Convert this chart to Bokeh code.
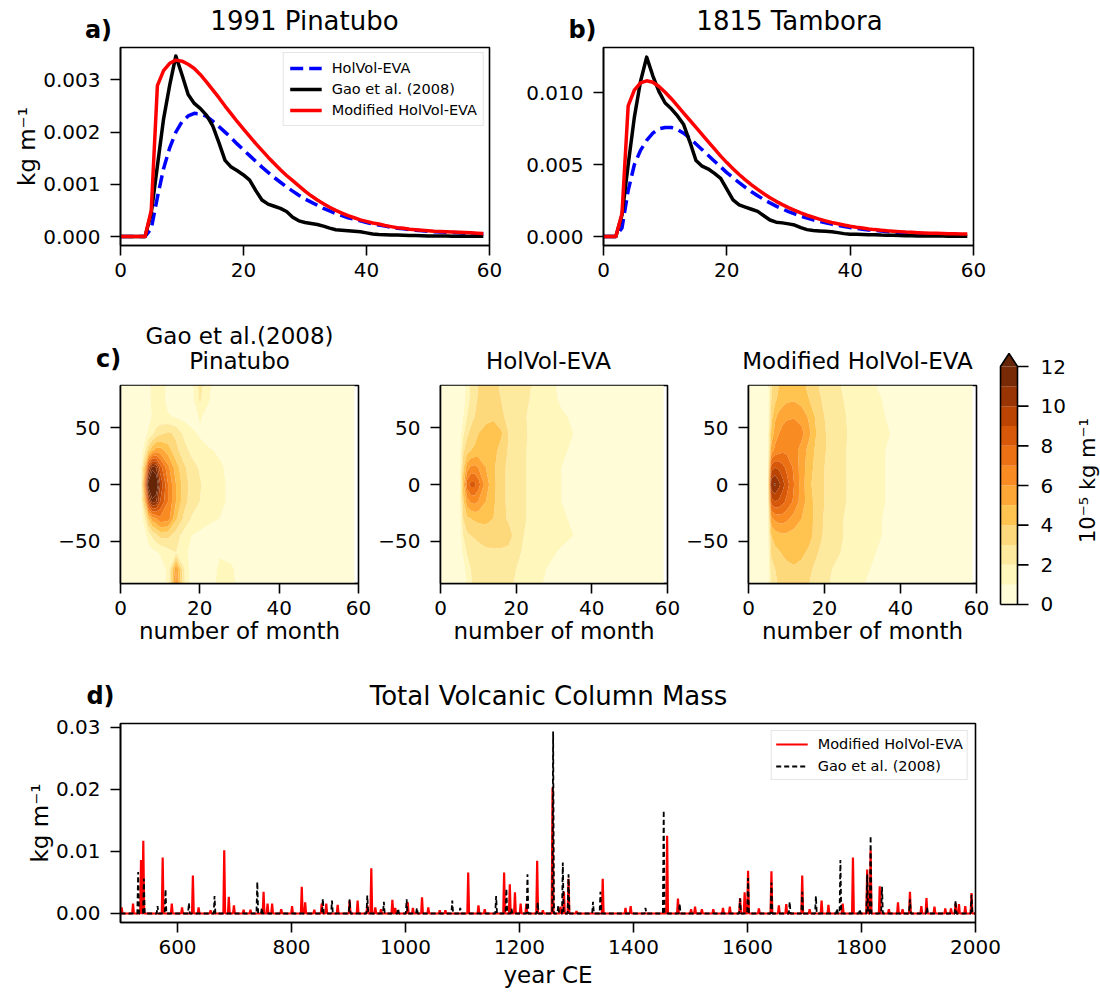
import numpy as np
from bokeh.plotting import figure
from bokeh.layouts import column, row
from bokeh.models import (FixedTicker, PrintfTickFormatter, Legend, LegendItem, Range1d)
from bokeh.core.properties import value
from bokeh.embed import file_html
from bokeh.resources import INLINE

FONT = "DejaVu Sans"

# ---------------- data: panels a, b (units 1e-3 kg m^-1) ----------------
UNIT_AB = 1e-3
months = list(range(60))
pin_holvol = [0, 0, 0, 0, 0, 0.15, 0.75, 1.30, 1.70, 2.00,
              2.20, 2.31, 2.36, 2.35, 2.30, 2.21, 2.11, 2.00, 1.89, 1.77,
              1.66, 1.55, 1.44, 1.33, 1.23, 1.13, 1.04, 0.95, 0.87, 0.79,
              0.72, 0.66, 0.60, 0.54, 0.49, 0.44, 0.40, 0.36, 0.33, 0.30,
              0.27, 0.24, 0.22, 0.20, 0.18, 0.16, 0.15, 0.13, 0.12, 0.11,
              0.10, 0.09, 0.085, 0.08, 0.075, 0.07, 0.065, 0.06, 0.055, 0.05]
pin_gao = [0, 0, 0, 0, 0, 0.45, 1.35, 2.25, 2.90, 3.46,
           3.10, 2.72, 2.55, 2.45, 2.32, 2.12, 1.80, 1.46, 1.33, 1.26,
           1.18, 1.08, 0.88, 0.70, 0.62, 0.58, 0.54, 0.48, 0.37, 0.30,
           0.27, 0.25, 0.23, 0.20, 0.16, 0.13, 0.12, 0.11, 0.10, 0.09,
           0.07, 0.05, 0.04, 0.035, 0.03, 0.03, 0.025, 0.02, 0.02, 0.015,
           0.01, 0.01, 0.01, 0.01, 0.005, 0.005, 0.005, 0.005, 0.005, 0.005]
pin_mod = [0, 0, 0, 0, 0, 0.50, 2.89, 3.18, 3.32, 3.38,
           3.36, 3.30, 3.22, 3.10, 2.96, 2.81, 2.66, 2.50, 2.35, 2.20,
           2.06, 1.92, 1.78, 1.65, 1.52, 1.40, 1.28, 1.17, 1.07, 0.97,
           0.87, 0.78, 0.70, 0.63, 0.56, 0.50, 0.45, 0.40, 0.36, 0.32,
           0.29, 0.26, 0.24, 0.21, 0.19, 0.17, 0.16, 0.14, 0.13, 0.12,
           0.11, 0.10, 0.095, 0.09, 0.085, 0.08, 0.075, 0.07, 0.065, 0.06]
tam_holvol = [0, 0, 0, 0.6, 3.2, 5.0, 6.0, 6.7, 7.2, 7.5,
              7.6, 7.6, 7.45, 7.2, 6.85, 6.45, 6.05, 5.65, 5.25, 4.85,
              4.45, 4.1, 3.75, 3.42, 3.12, 2.84, 2.58, 2.34, 2.12, 1.92,
              1.74, 1.57, 1.42, 1.28, 1.16, 1.05, 0.95, 0.86, 0.77, 0.70,
              0.63, 0.57, 0.51, 0.46, 0.42, 0.38, 0.34, 0.31, 0.28, 0.25,
              0.23, 0.21, 0.19, 0.17, 0.16, 0.15, 0.14, 0.13, 0.12, 0.11]
tam_gao = [0, 0, 0, 1.5, 5.0, 8.3, 10.8, 12.5, 11.2, 10.1,
           9.3, 8.9, 8.4, 7.8, 6.6, 5.3, 4.9, 4.7, 4.4, 4.05,
           3.3, 2.55, 2.2, 2.05, 1.9, 1.75, 1.45, 1.15, 1.0, 0.95,
           0.88, 0.8, 0.62, 0.48, 0.42, 0.39, 0.36, 0.33, 0.27, 0.2,
           0.16, 0.15, 0.14, 0.13, 0.12, 0.10, 0.09, 0.08, 0.07, 0.06,
           0.05, 0.04, 0.04, 0.03, 0.03, 0.03, 0.02, 0.02, 0.02, 0.02]
tam_mod = [0, 0, 0, 1.6, 9.1, 10.2, 10.7, 10.85, 10.75, 10.45,
           10.05, 9.6, 9.1, 8.6, 8.1, 7.6, 7.1, 6.6, 6.1, 5.6,
           5.15, 4.72, 4.32, 3.95, 3.6, 3.28, 2.98, 2.7, 2.45, 2.22,
           2.01, 1.82, 1.64, 1.48, 1.34, 1.21, 1.09, 0.98, 0.89, 0.80,
           0.72, 0.65, 0.59, 0.53, 0.48, 0.44, 0.40, 0.37, 0.34, 0.31,
           0.29, 0.27, 0.25, 0.23, 0.22, 0.21, 0.20, 0.19, 0.18, 0.17]

# ---------------- data: panel c (units 1e-5 kg m^-1) ----------------
c_months = [0, 4, 5, 6, 7, 8, 9, 10, 12, 14, 16, 18, 20, 22, 25, 28, 32, 40, 59]
c_lats = [-87.5, -75, -60, -45, -30, -15, 0, 15, 30, 45, 60, 75, 87.5]
c_levels = [0, 1, 2, 3, 4, 5, 6, 7, 8, 9, 10, 11, 12, 100]
c_palette = ["#fffcd7", "#fff7bc", "#feea9f", "#fed97b", "#fec44f", "#fea736",
             "#f88b22", "#ec7014", "#d75808", "#bb4403", "#993404", "#772a05", "#662506"]
cbar_ticks = [0, 2, 4, 6, 8, 10, 12]
cbar_label = "10\u207b\u2075 kg m\u207b\u00b9"

gao_pinatubo_field = [
    [.3, .3, .3, .3, .3, .3, .4, .5, 1.2, 6.5, 2.2, .5, .4, .4, 1.3, 1.2, .4, .3, .2],
    [.3, .3, .3, .3, .3, .4, .5, .6, 1.2, 6.0, 2.1, .5, .4, .4, 1.2, 1.1, .4, .3, .2],
    [.3, .3, .3, .4, .5, .7, .9, 1.1, 1.6, 2.0, 1.4, .6, .5, .5, .9, .8, .4, .3, .2],
    [.3, .3, .3, .6, 1.5, 2.2, 2.8, 3.3, 3.3, 2.5, 1.6, 1.0, .8, .7, .6, .5, .4, .3, .2],
    [.3, .3, .4, 1.5, 4.0, 5.5, 6.0, 6.8, 6.5, 4.2, 2.8, 1.9, 1.5, 1.2, 1.0, .7, .5, .3, .2],
    [.3, .3, .5, 4.0, 9.0, 11.5, 11.0, 9.0, 7.0, 5.0, 3.4, 2.5, 2.0, 1.6, 1.2, .8, .6, .4, .2],
    [.3, .3, .6, 6.0, 12.5, 15.0, 13.5, 10.0, 7.0, 5.0, 3.5, 2.6, 2.1, 1.6, 1.2, .8, .6, .4, .2],
    [.3, .3, .5, 4.0, 9.0, 11.5, 11.0, 8.5, 6.3, 4.5, 3.2, 2.4, 1.9, 1.5, 1.1, .8, .6, .4, .2],
    [.3, .3, .4, 1.5, 3.5, 4.8, 5.5, 5.5, 4.5, 3.3, 2.4, 1.7, 1.3, 1.1, .9, .6, .5, .3, .2],
    [.3, .3, .3, .5, 1.2, 1.8, 2.4, 2.8, 3.2, 2.8, 1.8, 1.2, .9, .7, .6, .5, .4, .3, .2],
    [.3, .3, .3, .4, .6, 1.1, 1.3, 1.3, 1.1, .9, .7, .6, 1.1, .8, .5, .4, .3, .3, .2],
    [.3, .3, .3, .4, .6, 1.3, 1.5, 1.5, .7, .5, .5, .7, 2.2, 1.1, .5, .4, .3, .3, .2],
    [.3, .3, .3, .4, .6, 1.3, 1.5, 1.5, .7, .5, .5, .7, 2.4, 1.2, .5, .4, .3, .3, .2],
]
holvol_field = [
    [.3, .3, .3, .5, 1.2, 1.9, 2.2, 2.4, 2.5, 2.5, 2.4, 2.2, 1.9, 1.6, 1.2, .9, .7, .4, .3],
    [.3, .3, .3, .6, 1.4, 2.0, 2.3, 2.5, 2.6, 2.6, 2.5, 2.3, 2.0, 1.7, 1.3, 1.0, .8, .5, .3],
    [.3, .3, .3, 1.2, 2.1, 2.5, 2.6, 2.7, 2.8, 2.9, 2.8, 2.6, 2.2, 1.9, 1.5, 1.2, .9, .5, .3],
    [.3, .3, .4, 2.0, 2.8, 3.0, 3.1, 3.2, 3.5, 3.3, 3.6, 3.6, 2.4, 2.0, 1.7, 1.4, 1.2, .7, .3],
    [.3, .3, .4, 3.0, 3.8, 4.0, 4.2, 4.3, 4.3, 4.0, 3.5, 2.8, 2.4, 2.1, 1.7, 1.4, 1.1, .6, .3],
    [.3, .3, .5, 3.8, 5.5, 6.2, 6.3, 6.0, 5.0, 4.2, 3.3, 2.8, 2.4, 2.1, 1.7, 1.4, 1.0, .6, .3],
    [.3, .3, .5, 4.5, 7.5, 8.3, 8.3, 7.5, 5.5, 4.3, 3.3, 2.8, 2.4, 2.1, 1.7, 1.4, 1.0, .6, .3],
    [.3, .3, .5, 3.8, 5.5, 6.2, 6.3, 6.0, 5.0, 4.2, 3.3, 2.8, 2.4, 2.1, 1.7, 1.4, 1.0, .6, .3],
    [.3, .3, .4, 2.8, 3.6, 4.0, 4.2, 4.4, 4.6, 4.4, 3.6, 2.9, 2.5, 2.1, 1.7, 1.4, 1.1, .6, .3],
    [.3, .3, .4, 1.8, 2.8, 3.3, 3.6, 4.0, 4.5, 4.6, 4.2, 3.0, 2.5, 2.1, 1.8, 1.5, 1.2, .7, .3],
    [.3, .3, .3, 1.0, 2.0, 2.6, 3.0, 3.3, 3.6, 3.8, 3.3, 2.6, 2.3, 2.1, 1.7, 1.4, 1.1, .6, .3],
    [.3, .3, .3, .6, 1.5, 2.3, 2.8, 3.1, 3.3, 3.3, 3.0, 2.6, 2.4, 2.2, 1.8, 1.3, .9, .5, .3],
    [.3, .3, .3, .5, 1.3, 2.2, 2.7, 3.0, 3.2, 3.2, 2.9, 2.5, 2.3, 2.2, 1.9, 1.3, .8, .5, .3],
]
mod_holvol_field = [
    [.3, .3, .4, 2.3, 2.8, 3.1, 3.4, 3.6, 3.7, 3.5, 3.0, 2.5, 2.2, 1.9, 1.5, 1.2, .9, .5, .3],
    [.3, .3, .4, 2.6, 3.0, 3.3, 3.6, 3.8, 3.9, 3.7, 3.2, 2.7, 2.3, 2.0, 1.6, 1.3, 1.0, .6, .3],
    [.3, .3, .4, 3.2, 3.7, 3.9, 4.1, 4.2, 4.3, 4.2, 3.8, 3.1, 2.6, 2.3, 1.9, 1.5, 1.1, .6, .3],
    [.3, .3, .4, 4.0, 4.5, 4.7, 4.8, 4.8, 4.6, 4.5, 4.3, 3.6, 2.8, 2.4, 2.0, 1.6, 1.2, .7, .3],
    [.3, .3, .5, 5.8, 6.3, 6.5, 6.5, 6.3, 5.6, 5.0, 4.5, 3.5, 2.9, 2.5, 2.0, 1.6, 1.2, .7, .3],
    [.3, .3, .5, 8.5, 9.0, 8.8, 8.3, 7.8, 6.8, 5.5, 4.4, 3.6, 3.0, 2.6, 2.1, 1.7, 1.3, .7, .3],
    [.3, .3, .5, 10.8, 11.2, 10.3, 9.4, 8.5, 7.0, 5.5, 4.2, 3.5, 3.0, 2.6, 2.1, 1.7, 1.3, .7, .3],
    [.3, .3, .5, 8.5, 9.0, 8.8, 8.3, 7.8, 6.8, 5.5, 4.4, 3.6, 3.0, 2.6, 2.1, 1.7, 1.3, .7, .3],
    [.3, .3, .5, 5.5, 6.3, 6.6, 6.8, 6.8, 6.4, 5.6, 4.6, 3.7, 3.1, 2.6, 2.1, 1.7, 1.3, .7, .3],
    [.3, .3, .4, 4.3, 5.5, 6.0, 6.4, 6.7, 6.8, 6.3, 5.2, 3.9, 3.1, 2.6, 2.1, 1.8, 1.4, .8, .3],
    [.3, .3, .4, 3.6, 4.8, 5.3, 5.6, 5.8, 5.9, 5.6, 4.8, 3.7, 3.0, 2.6, 2.1, 1.7, 1.3, .7, .3],
    [.3, .3, .4, 3.0, 3.8, 4.3, 4.6, 4.8, 4.9, 4.6, 4.0, 3.3, 2.8, 2.4, 2.0, 1.6, 1.2, .7, .3],
    [.3, .3, .4, 2.8, 3.5, 4.0, 4.3, 4.5, 4.5, 4.3, 3.7, 3.1, 2.6, 2.3, 1.9, 1.5, 1.1, .6, .3],
]

# ---------------- data: panel d (kg m^-1) ----------------
d_year_start, d_year_end = 500, 2000
mod_years = [502, 522, 536, 540, 574, 590, 608, 627, 637, 658, 682, 690, 699, 716, 728,
             751, 758, 766, 782, 801, 818, 824, 840, 853, 861, 881, 902, 916, 933, 940,
             947, 957, 977, 982, 1004, 1013, 1029, 1040, 1060, 1070, 1110, 1128, 1139,
             1173, 1183, 1192, 1202, 1212, 1231, 1241, 1258, 1272, 1278, 1286, 1300, 1346,
             1386, 1395, 1459, 1478, 1501, 1508, 1520, 1540, 1557, 1569, 1587, 1595, 1601,
             1620, 1642, 1655, 1668, 1696, 1709, 1730, 1742, 1767, 1785, 1810, 1816, 1832,
             1848, 1864, 1872, 1885, 1905, 1914, 1928, 1947, 1957, 1965, 1971, 1982, 1993]
mod_peaks = [0.0010, 0.0016, 0.0086, 0.0117, 0.0090, 0.0016, 0.0010, 0.0061, 0.0010, 0.0005,
             0.0102, 0.0027, 0.0013, 0.0006, 0.0006, 0.0035, 0.0016, 0.0016, 0.0007, 0.0012,
             0.0043, 0.0018, 0.0006, 0.0016, 0.0016, 0.0014, 0.0021, 0.0021, 0.0013, 0.0073,
             0.0010, 0.0007, 0.0022, 0.0009, 0.0018, 0.0009, 0.0026, 0.0010, 0.0005, 0.0005,
             0.0066, 0.0013, 0.0007, 0.0066, 0.0047, 0.0034, 0.0016, 0.0016, 0.0085, 0.0005,
             0.0203, 0.0011, 0.0035, 0.0056, 0.0004, 0.0056, 0.0009, 0.0012, 0.0125, 0.0024,
             0.0007, 0.0011, 0.0007, 0.0007, 0.0009, 0.0011, 0.0025, 0.0034, 0.0069, 0.0008,
             0.0068, 0.0013, 0.0015, 0.0061, 0.0007, 0.0021, 0.0014, 0.0016, 0.0090, 0.0071,
             0.0102, 0.0044, 0.0007, 0.0018, 0.0007, 0.0035, 0.0012, 0.0025, 0.0011, 0.0008,
             0.0008, 0.0016, 0.0015, 0.0012, 0.0033]
gao_years = [531, 541, 565, 579, 620, 665, 740, 748, 855, 871, 902, 933, 962, 987, 1002,
             1020, 1082, 1096, 1159, 1177, 1186, 1214, 1232, 1259, 1268, 1276, 1286, 1329,
             1342, 1421, 1453, 1481, 1587, 1601, 1642, 1674, 1696, 1720, 1757, 1763, 1797,
             1810, 1816, 1836, 1885, 1915, 1965, 1993]
gao_peaks = [0.0067, 0.0056, 0.0012, 0.0039, 0.0017, 0.0028, 0.0051, 0.0009, 0.0024, 0.0021,
             0.0023, 0.0029, 0.0019, 0.0008, 0.0023, 0.0009, 0.0021, 0.0009, 0.0028, 0.0040,
             0.0008, 0.0063, 0.0018, 0.0293, 0.0013, 0.0082, 0.0063, 0.0019, 0.0035, 0.0009,
             0.0166, 0.0016, 0.0024, 0.0057, 0.0050, 0.0019, 0.0035, 0.0028, 0.0008, 0.0086,
             0.0007, 0.0063, 0.0125, 0.0043, 0.0023, 0.0010, 0.0021, 0.0030]

RED, BLUE, BLACK = "#ff0000", "#0000ff", "#000000"
KG = "kg m\u207b\u00b9"


def base_fig(width, height, xr, yr, left, right, top, bottom, **kw):
    p = figure(width=width, height=height, x_range=Range1d(*xr), y_range=Range1d(*yr),
               output_backend="svg", toolbar_location=None, frame_align=False,
               min_border_left=left, min_border_right=right,
               min_border_top=top, min_border_bottom=bottom, **kw)
    p.grid.visible = False
    p.outline_line_color = "black"
    p.outline_line_width = 1.6
    p.outline_line_alpha = 1.0
    p.background_fill_color = "white"
    p.border_fill_color = "white"
    for ax in list(p.xaxis) + list(p.yaxis):
        ax.axis_line_width = 1.6
        ax.axis_line_color = "black"
        ax.major_tick_out = 10
        ax.major_tick_in = 0
        ax.major_tick_line_width = 1.6
        ax.major_tick_line_color = "black"
        ax.minor_tick_line_color = None
        ax.major_label_text_font = FONT
        ax.major_label_text_font_size = "20px"
        ax.major_label_text_color = "black"
        ax.axis_label_text_font = FONT
        ax.axis_label_text_font_size = "23px"
        ax.axis_label_text_font_style = "normal"
        ax.axis_label_text_color = "black"
    for ax in p.xaxis:
        ax.major_label_standoff = 7
    for ax in p.yaxis:
        ax.major_label_standoff = 10
    return p


def strip(width, height, items):
    """Text-only band: items = (x_px, y_px_from_top, text, size, bold)."""
    s = figure(width=width, height=height, x_range=Range1d(0, width),
               y_range=Range1d(height, 0), output_backend="svg", toolbar_location=None,
               frame_align=False,
               min_border_left=0, min_border_right=0, min_border_top=0, min_border_bottom=0,
               x_axis_location=None, y_axis_location=None)
    s.grid.visible = False
    s.outline_line_color = None
    s.background_fill_color = "white"
    s.border_fill_color = "white"
    for x, y, t, size, bold in items:
        s.text(x=[x], y=[y], text=[t], text_font=value(FONT),
               text_font_size=value(size), text_font_style="bold" if bold else "normal",
               text_align="center", text_baseline="middle", text_color="black")
    return s


def style_legend(lg, margin, padding, spacing):
    lg.label_text_font = FONT
    lg.label_text_font_size = "14.5px"
    lg.label_text_color = "black"
    lg.glyph_width = 32
    lg.glyph_height = 18
    lg.label_height = 18
    lg.label_standoff = 10
    lg.spacing = spacing
    lg.padding = padding
    lg.margin = margin
    lg.border_line_color = "#cccccc"
    lg.border_line_width = 1.5
    lg.background_fill_alpha = 0.8


def line_panel(holvol, gao, mod, yr, yticks, width, left, right, legend, ylabel):
    p = base_fig(width, 255, (0, 60), yr, left, right, 2, 55)
    x = months
    rb = p.line(x, [v * UNIT_AB for v in holvol], line_color=BLUE, line_width=3.5,
                line_dash="13 6")
    rg = p.line(x, [v * UNIT_AB for v in gao], line_color=BLACK, line_width=3.5,
                line_join="round")
    rm = p.line(x, [v * UNIT_AB for v in mod], line_color=RED, line_width=3.5,
                line_join="round")
    p.xaxis.ticker = FixedTicker(ticks=[0, 20, 40, 60])
    p.yaxis.ticker = FixedTicker(ticks=yticks)
    p.yaxis.formatter = PrintfTickFormatter(format="%.3f")
    if ylabel:
        p.yaxis.axis_label = ylabel
        p.yaxis.axis_label_standoff = 0
    if legend:
        lg = Legend(items=[LegendItem(label="HolVol-EVA", renderers=[rb]),
                           LegendItem(label="Gao et al. (2008)", renderers=[rg]),
                           LegendItem(label="Modified HolVol-EVA", renderers=[rm])],
                    location="top_right")
        style_legend(lg, 5, 6, 3)
        p.add_layout(lg)
    return p


# ---------------- row 1 ----------------
strip1 = strip(1100, 45, [(98, 29, "a)", "24px", True),
                          (304, 20, "1991 Pinatubo", "26px", False),
                          (582, 29, "b)", "24px", True),
                          (789, 20, "1815 Tambora", "26px", False)])
pa = line_panel(pin_holvol, pin_gao, pin_mod, (-0.000172, 0.003622),
                [0, 0.001, 0.002, 0.003], 510, 120, 21, True, KG)
pb = line_panel(tam_holvol, tam_gao, tam_mod, (-0.000627, 0.01317),
                [0, 0.005, 0.010], 590, 93, 127, False, None)


# ---------------- row 2: panel c ----------------
def contour_panel(field, width, left, right):
    p = base_fig(width, 269, (0, 60), (-87.5, 87.5), left, right, 2, 69)
    p.contour(x=np.array(c_months, dtype=float), y=np.array(c_lats, dtype=float),
              z=np.array(field, dtype=float), levels=c_levels,
              fill_color=c_palette, line_color=None)
    p.xaxis.ticker = FixedTicker(ticks=[0, 20, 40, 60])
    p.yaxis.ticker = FixedTicker(ticks=[-50, 0, 50])
    p.yaxis.major_label_overrides = {-50: "\u221250"}
    p.xaxis.axis_label = "number of month"
    p.xaxis.axis_label_standoff = 0
    return p


strip2 = strip(990, 83, [(108, 58, "c)", "24px", True),
                         (239, 35, "Gao et al.(2008)", "23px", False),
                         (239, 60, "Pinatubo", "23px", False),
                         (548, 60, "HolVol-EVA", "23px", False),
                         (857, 60, "Modified HolVol-EVA", "23px", False)])
c1 = contour_panel(gao_pinatubo_field, 375, 120, 17)
c2 = contour_panel(holvol_field, 308, 55, 16)
c3 = contour_panel(mod_holvol_field, 307, 55, 14)

# colour bar (frame spans bar + ticks + label; 1 x-unit = 17 px, 1 y-unit = 19.83 px)
PXX, PXY = 17.0, 19.83
ext = 13.0 / PXY
top = c_levels[-2]
cb = figure(width=110, height=352, x_range=Range1d(-2 / PXX, 100 / PXX),
            y_range=Range1d(-12 / PXY, top + ext + 2 / PXY),
            output_backend="svg", toolbar_location=None, frame_align=False,
            min_border_left=8, min_border_right=0, min_border_top=51, min_border_bottom=36,
            x_axis_location=None, y_axis_location=None)
cb.grid.visible = False
cb.outline_line_color = None
cb.background_fill_color = "white"
cb.border_fill_color = "white"
cb.quad(left=0, right=1, bottom=c_levels[:-2], top=c_levels[1:-1],
        fill_color=c_palette[:-1], line_color=None)
cb.patch([0, 0.5, 1], [top, top + ext, top], fill_color=c_palette[-1], line_color=None)
cb.line([0, 1, 1, 0.5, 0, 0], [0, 0, top, top + ext, top, 0], line_color="black",
        line_width=1.6)
cb.segment(x0=[1] * len(cbar_ticks), x1=[1 + 11 / PXX] * len(cbar_ticks),
           y0=cbar_ticks, y1=cbar_ticks, line_color="black", line_width=1.6)
cb.text(x=[1 + 23 / PXX] * len(cbar_ticks), y=cbar_ticks, text=[str(t) for t in cbar_ticks],
        text_font=value(FONT), text_font_size=value("20px"), text_align="left",
        text_baseline="middle", text_color="black")
cb.text(x=[87 / PXX], y=[124 / PXY], text=[cbar_label], angle=np.pi / 2,
        text_font=value(FONT), text_font_size=value("21px"), text_align="center",
        text_baseline="middle", text_color="black")


# ---------------- row 3: panel d ----------------
def spikes(years, peaks, half=1.5):
    xs, ys = [d_year_start], [0.0]
    for yv, pv in sorted(zip(years, peaks)):
        xs += [yv - half, yv, yv + half]
        ys += [0.0, pv, 0.0]
    xs.append(d_year_end)
    ys.append(0.0)
    return xs, ys


strip3 = strip(1100, 61, [(100, 43, "d)", "24px", True),
                          (548, 43, "Total Volcanic Column Mass", "26px", False)])
pd_ = base_fig(1100, 287, (d_year_start, d_year_end), (-0.00145, 0.0306), 120, 125, 10, 78)
mx, my = spikes(mod_years, mod_peaks)
gx, gy = spikes(gao_years, gao_peaks)
rmod = pd_.line(mx, my, line_color=RED, line_width=2.2)
rgao = pd_.line(gx, gy, line_color=BLACK, line_width=1.8, line_dash="5 3")
pd_.xaxis.ticker = FixedTicker(ticks=[600, 800, 1000, 1200, 1400, 1600, 1800, 2000])
pd_.yaxis.ticker = FixedTicker(ticks=[0, 0.01, 0.02, 0.03])
pd_.yaxis.formatter = PrintfTickFormatter(format="%.2f")
pd_.xaxis.axis_label = "year CE"
pd_.yaxis.axis_label = KG
pd_.yaxis.axis_label_standoff = 0
lgd = Legend(items=[LegendItem(label="Modified HolVol-EVA", renderers=[rmod]),
                    LegendItem(label="Gao et al. (2008)", renderers=[rgao])],
             location="top_right")
style_legend(lgd, 7, 4, 4)
pd_.add_layout(lgd)

layout = column(
    strip1,
    row(pa, pb),
    row(column(strip2, row(c1, c2, c3)), cb),
    strip3,
    pd_,
)
open("out.html", "w").write(file_html(layout, INLINE))
